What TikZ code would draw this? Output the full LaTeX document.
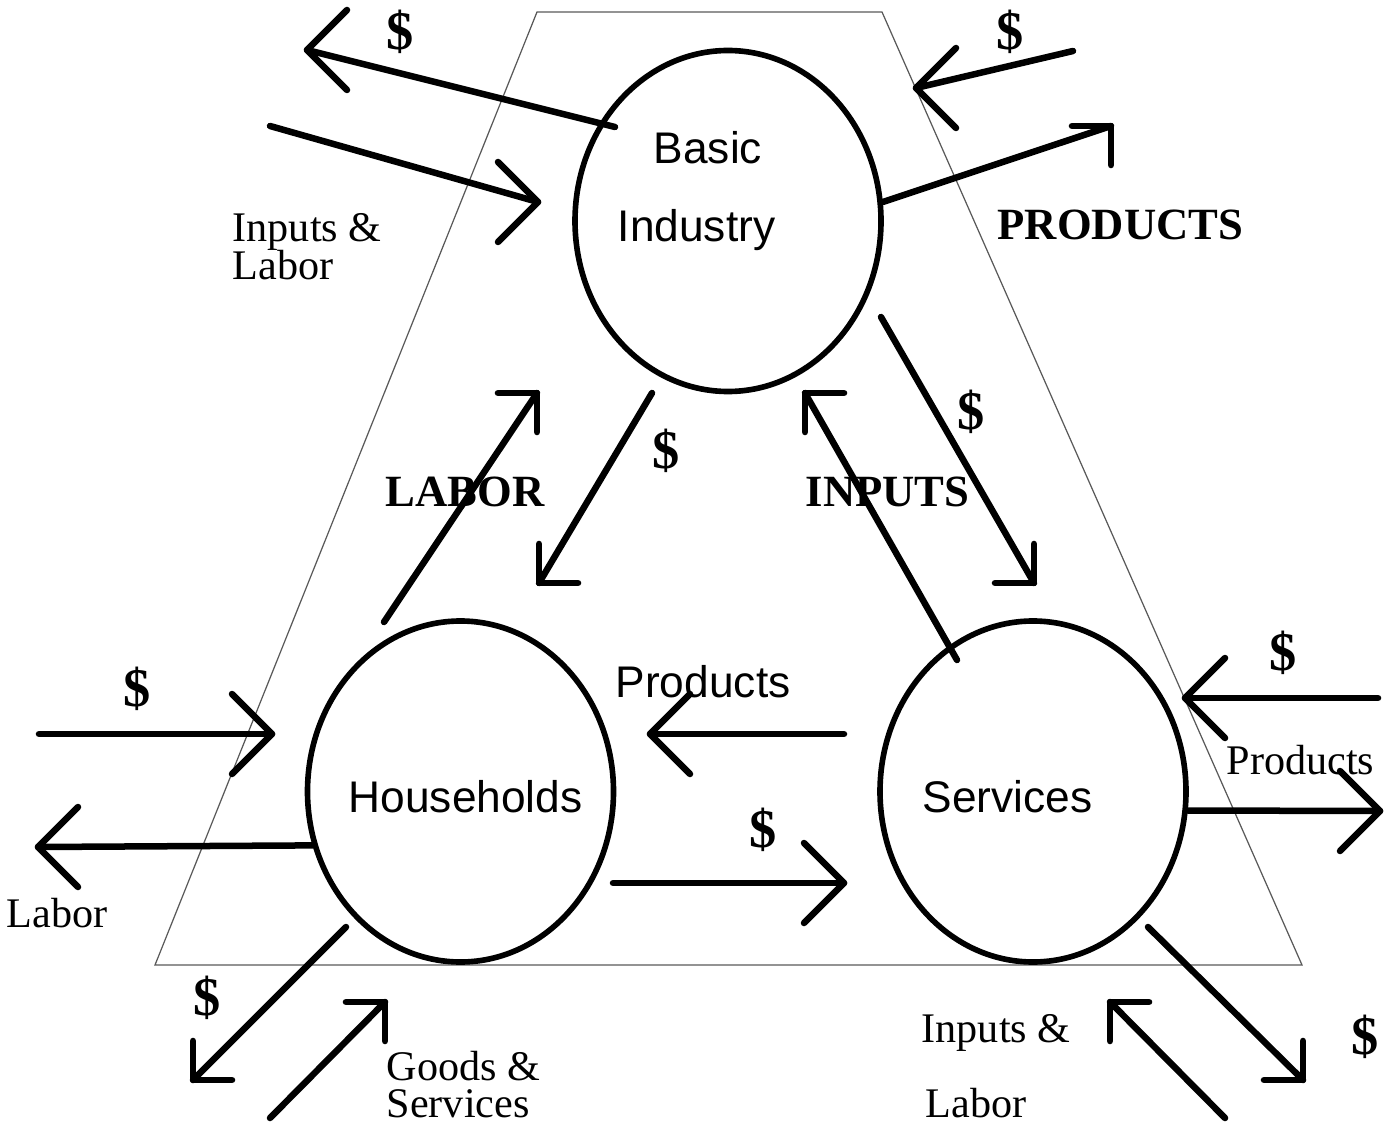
\documentclass[tikz,border=0pt]{standalone}
\usepackage{fontspec}
\setmainfont{Liberation Serif}
\setsansfont{Liberation Sans}
\usetikzlibrary{shapes.geometric}

\begin{document}
\begin{tikzpicture}[
  sector/.style = {
    shape = ellipse,
    draw,
    line width = 1.6pt,
    inner sep = 0pt,
    minimum width = 3.06cm,
    minimum height = 3.41cm,
  },
  frame/.style = {
    draw = black!65,
    line width = 0.35pt,
  },
  flow/.style = {
    line width = 1.85pt,
    line cap = round,
    line join = round,
  },
  slant/.style = {
    scale = 0.69
  },
  barb/.pic = {
    \draw[flow] (-0.4, 0.4) -- (0, 0) -- (-0.4, -0.4);
  },
  sectorname/.style = {
    anchor = base west,
    inner sep = 0pt,
    font = \sffamily\fontsize{12.6}{15}\selectfont,
  },
  caps/.style = {
    anchor = base west,
    inner sep = 0pt,
    font = \bfseries\fontsize{12.7}{15}\selectfont,
  },
  word/.style = {
    anchor = base west,
    inner sep = 0pt,
    font = \fontsize{12}{14}\selectfont,
  },
  money/.style = {
    inner sep = 0pt,
    font = \bfseries\fontsize{15.5}{18}\selectfont,
  }
]
  \useasboundingbox (0, 0) rectangle (13.89, -11.32);

  \draw[frame] (5.37, -0.12) -- (8.82, -0.12) -- (13.02, -9.65) -- (1.55, -9.65) -- cycle;

  \node[sector] (bi) at (7.28, -2.21) {};
  \node[sector] (hh) at (4.605, -7.915) {};
  \node[sector] (sv) at (10.33, -7.915) {};

  \node[sectorname] (bi-top) at (6.53, -1.64) {Basic};
  \node[sectorname] (bi-bot) at (6.17, -2.42) {Industry};
  \node[sectorname] (hh-name) at (3.48, -8.12) {Households};
  \node[sectorname] (sv-name) at (9.22, -8.12) {Services};
  \node[sectorname] (sv-prod) at (6.15, -6.97) {Products};

  \node[caps] (labor) at (3.85, -5.06) {LABOR};
  \node[caps] (inputs) at (8.05, -5.06) {INPUTS};
  \node[caps] (products) at (9.97, -2.40) {PRODUCTS};

  \node[word] (bi-in1) at (2.32, -2.42) {Inputs \&};
  \node[word] (bi-in2) at (2.32, -2.80) {Labor};
  \node[word] (hh-out) at (0.06, -9.27) {Labor};
  \node[word] (hh-in1) at (3.86, -10.80) {Goods \&};
  \node[word] (hh-in2) at (3.86, -11.17) {Services};
  \node[word] (sv-out) at (12.26, -7.74) {Products};
  \node[word] (sv-in1) at (9.21, -10.42) {Inputs \&};
  \node[word] (sv-in2) at (9.25, -11.17) {Labor};

  \node[money] (m1) at (4.00, -0.32) {\$};
  \node[money] (m2) at (10.10, -0.32) {\$};
  \node[money] (m3) at (6.66, -4.51) {\$};
  \node[money] (m4) at (9.71, -4.12) {\$};
  \node[money] (m5) at (1.37, -6.89) {\$};
  \node[money] (m6) at (7.63, -8.30) {\$};
  \node[money] (m7) at (2.07, -9.98) {\$};
  \node[money] (m8) at (12.83, -6.53) {\$};
  \node[money] (m9) at (13.65, -10.37) {\$};

  \coordinate (s1) at (6.15, -1.27);
  \coordinate (t1) at (3.07, -0.50);
  \coordinate (s2) at (2.70, -1.26);
  \coordinate (t2) at (5.38, -2.02);
  \coordinate (s3) at (10.73, -0.51);
  \coordinate (t3) at (9.16, -0.88);
  \coordinate (t4) at (11.11, -1.26);
  \coordinate (s5) at (6.52, -3.93);
  \coordinate (t5) at (5.39, -5.83);
  \coordinate (s6) at (3.84, -6.22);
  \coordinate (t6) at (5.37, -3.93);
  \coordinate (s7) at (9.57, -6.60);
  \coordinate (t7) at (8.05, -3.93);
  \coordinate (s8) at (8.81, -3.17);
  \coordinate (t8) at (10.34, -5.83);
  \coordinate (s9) at (8.44, -7.34);
  \coordinate (t9) at (6.50, -7.34);
  \coordinate (s10) at (6.13, -8.83);
  \coordinate (t10) at (8.44, -8.83);
  \coordinate (s11) at (0.39, -7.34);
  \coordinate (t11) at (2.72, -7.34);
  \coordinate (t12) at (0.38, -8.47);
  \coordinate (s13) at (3.46, -9.27);
  \coordinate (t13) at (1.93, -10.80);
  \coordinate (s14) at (2.70, -11.18);
  \coordinate (t14) at (3.85, -10.02);
  \coordinate (s15) at (13.78, -6.98);
  \coordinate (t15) at (11.85, -6.98);
  \coordinate (t16) at (13.80, -8.11);
  \coordinate (s17) at (11.48, -9.27);
  \coordinate (t17) at (13.03, -10.80);
  \coordinate (s18) at (12.25, -11.18);
  \coordinate (t18) at (11.10, -10.02);

  \draw[flow] (s1) -- (t1) pic[rotate = 180] {barb};
  \draw[flow] (s2) -- (t2) pic {barb};
  \draw[flow] (s3) -- (t3) pic[rotate = 180] {barb};
  \draw[flow] (bi.7) -- (t4) pic[rotate = 45, slant] {barb};

  \draw[flow] (s5) -- (t5) pic[rotate = 225, slant] {barb};
  \draw[flow] (s6) -- (t6) pic[rotate = 45, slant] {barb};
  \draw[flow] (s7) -- (t7) pic[rotate = 135, slant] {barb};
  \draw[flow] (s8) -- (t8) pic[rotate = -45, slant] {barb};

  \draw[flow] (s9) -- (t9) pic[rotate = 180] {barb};
  \draw[flow] (s10) -- (t10) pic {barb};

  \draw[flow] (s11) -- (t11) pic {barb};
  \draw[flow] (hh.200) -- (t12) pic[rotate = 180] {barb};
  \draw[flow] (s13) -- (t13) pic[rotate = 225, slant] {barb};
  \draw[flow] (s14) -- (t14) pic[rotate = 45, slant] {barb};

  \draw[flow] (s15) -- (t15) pic[rotate = 180] {barb};
  \draw[flow] (sv.-7) -- (t16) pic {barb};
  \draw[flow] (s17) -- (t17) pic[rotate = -45, slant] {barb};
  \draw[flow] (s18) -- (t18) pic[rotate = 135, slant] {barb};
\end{tikzpicture}
\end{document}
